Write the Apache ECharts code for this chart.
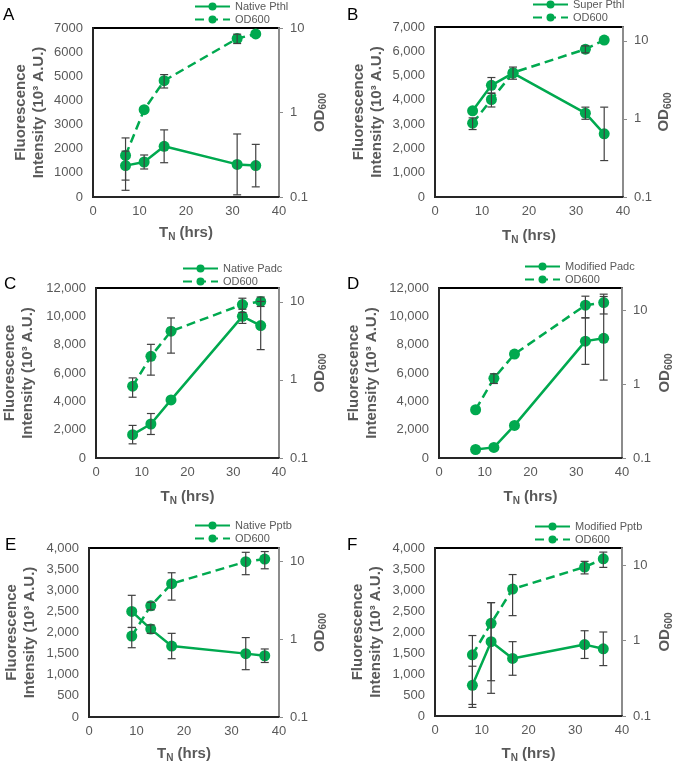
<!DOCTYPE html>
<html><head><meta charset="utf-8">
<script src="https://cdn.jsdelivr.net/npm/echarts@6/dist/echarts.min.js"></script>
<style>html,body{margin:0;padding:0;background:#fff}#c{width:675px;height:764px}</style>
</head><body><div id="c"></div>
<script>
// ---------- data ----------
const panelLetters = ['A', 'B', 'C', 'D', 'E', 'F'];
const seriesNames = ['Native Pthl', 'Super Pthl', 'Native Padc', 'Modified Padc', 'Native Pptb', 'Modified Pptb'];
const odName = 'OD600';

const timeA = [7, 11, 15.3, 31, 35];
const fluorA = [1300, 1450, 2100, 1350, 1300];
const fluorErrA = [600, 290, 680, 1260, 880];
const odA = [0.31, 1.08, 2.38, 7.5, 8.5];
const odErrA = [0.19, 0, 0.43, 0.95, 0];

const timeB = [8, 12, 16.6, 32, 36];
const fluorB = [3550, 4600, 5100, 3450, 2600];
const fluorErrB = [0, 320, 250, 250, 1100];
const odB = [0.88, 1.77, 3.9, 7.8, 10.2];
const odErrB = [0.15, 0.35, 0, 0.8, 0];

const timeC = [8, 12, 16.4, 32, 36];
const fluorC = [1650, 2400, 4100, 10000, 9350];
const fluorErrC = [650, 740, 0, 500, 1700];
const odC = [0.83, 2.0, 4.2, 9.2, 10.1];
const odErrC = [0.23, 0.85, 2.0, 1.9, 1.4];

const timeD = [8, 12, 16.5, 32, 36];
const fluorD = [600, 750, 2300, 8250, 8450];
const fluorErrD = [0, 0, 0, 1640, 2950];
const odD = [0.45, 1.2, 2.55, 11.7, 12.7];
const odErrD = [0, 0.18, 0, 3.8, 3.8];

const timeE = [9, 13, 17.4, 33, 37];
const fluorE = [2500, 2080, 1680, 1500, 1450];
const fluorErrE = [380, 100, 300, 380, 160];
const odE = [1.1, 2.7, 5.2, 10, 10.8];
const odErrE = [0.32, 0.3, 2.0, 3.2, 2.7];

const timeF = [8, 12, 16.6, 32, 36];
const fluorF = [730, 1770, 1370, 1700, 1600];
const fluorErrF = [455, 930, 400, 330, 400];
const odF = [0.65, 1.7, 4.85, 9.5, 12.2];
const odErrF = [0.52, 1.5, 2.7, 1.8, 2.8];

// axis ranges / tick labels
const timeTicks = [0, 10, 20, 30, 40];
const fluorAxisMax = [7000, 7000, 12000, 12000, 4000, 4000];
const fluorAxisStep = [1000, 1000, 2000, 2000, 500, 500];
const fluorUseComma = [false, true, true, true, true, true];
const odAxisMin = 0.1;
const odAxisMax = [10, 15, 15, 20, 15, 17];

const panels = [
  [timeA, fluorA, fluorErrA, odA, odErrA],
  [timeB, fluorB, fluorErrB, odB, odErrB],
  [timeC, fluorC, fluorErrC, odC, odErrC],
  [timeD, fluorD, fluorErrD, odD, odErrD],
  [timeE, fluorE, fluorErrE, odE, odErrE],
  [timeF, fluorF, fluorErrF, odF, odErrF]
];

// ---------- layout / style ----------
const layout = {
  grids: [
    {left: 93, top: 28, width: 186, height: 169},
    {left: 435, top: 27, width: 188, height: 170},
    {left: 91, top: 288, width: 188, height: 170},
    {left: 439, top: 288, width: 184, height: 170},
    {left: 89, top: 548, width: 190, height: 170},
    {left: 435, top: 548, width: 188, height: 170}
  ],
  legend: [[194, 1], [532, -1], [182, 263], [524, 261], [194, 520], [534, 521]],
  letters: [[3, 7], [347, 7], [4, 276], [347, 276], [5, 537], [347, 537]],
  leftNameGap: [45, 49, 59, 58, 50, 50],
  rightNameGap: [31, 32, 30, 34, 30, 34],
  xNameGap: [27, 30, 30, 30, 28, 29]
};
const FONT = '"Liberation Sans", Arial, sans-serif';
const GREEN = '#00a94f';
const GREY = '#595959';

function errRender(params, api) {
  const x = api.value(0), y = api.value(1), e = api.value(2);
  if (!e) return null;
  const top = api.coord([x, y + e]);
  const bot = api.coord([x, y - e]);
  const w = 4;
  const st = {stroke: '#404040', lineWidth: 1.2};
  return {
    type: 'group',
    children: [
      {type: 'line', shape: {x1: top[0], y1: top[1], x2: bot[0], y2: bot[1]}, style: st},
      {type: 'line', shape: {x1: top[0] - w, y1: top[1], x2: top[0] + w, y2: top[1]}, style: st},
      {type: 'line', shape: {x1: bot[0] - w, y1: bot[1], x2: bot[0] + w, y2: bot[1]}, style: st}
    ]
  };
}

const subRich = {
  b: {fontSize: 15, fontWeight: 'bold', color: GREY, fontFamily: FONT, lineHeight: 18},
  s: {fontSize: 10, fontWeight: 'bold', color: GREY, fontFamily: FONT, lineHeight: 10, verticalAlign: 'bottom'}
};

const option = {
  animation: false,
  backgroundColor: '#fff',
  title: [], grid: [], xAxis: [], yAxis: [], legend: [], series: []
};

panels.forEach((p, i) => {
  const [time, fluor, fluorErr, od, odErr] = p;
  const g = layout.grids[i];
  option.grid.push({left: g.left, top: g.top, width: g.width, height: g.height,
    show: true, borderColor: '#000', borderWidth: 2, backgroundColor: 'transparent'});
  option.title.push({text: panelLetters[i], left: layout.letters[i][0], top: layout.letters[i][1], padding: 0,
    textStyle: {fontSize: 17, fontWeight: 'normal', color: '#000', fontFamily: FONT}});
  option.xAxis.push({
    type: 'value', gridIndex: i, min: timeTicks[0], max: timeTicks[timeTicks.length - 1],
    interval: timeTicks[1] - timeTicks[0],
    name: '{b|T}{s|N}{b| (hrs)}', nameLocation: 'middle', nameGap: layout.xNameGap[i],
    nameTextStyle: {rich: subRich},
    axisLine: {show: true, lineStyle: {color: '#262626', width: 2}},
    axisTick: {show: false}, splitLine: {show: false},
    axisLabel: {fontSize: 13, color: GREY, fontFamily: FONT, margin: 8}
  });
  option.yAxis.push({
    type: 'value', gridIndex: i, position: 'left', min: 0, max: fluorAxisMax[i], interval: fluorAxisStep[i],
    name: 'Fluorescence\nIntensity (10³ A.U.)', nameLocation: 'middle', nameGap: layout.leftNameGap[i], nameRotate: 90,
    nameTextStyle: {fontSize: 15, fontWeight: 'bold', color: GREY, fontFamily: FONT, lineHeight: 18},
    axisLine: {show: true, lineStyle: {color: '#262626', width: 2}},
    axisTick: {show: false}, splitLine: {show: false},
    axisLabel: {fontSize: 13, color: GREY, fontFamily: FONT, margin: 10,
      formatter: v => fluorUseComma[i] ? v.toLocaleString('en-US') : String(v)}
  });
  option.yAxis.push({
    type: 'log', logBase: 10, gridIndex: i, position: 'right', min: odAxisMin, max: odAxisMax[i],
    name: '{b|OD}{s|600}', nameLocation: 'middle', nameGap: layout.rightNameGap[i], nameRotate: 90,
    nameTextStyle: {rich: subRich},
    axisLine: {show: true, lineStyle: {color: '#8c8c8c', width: 2}},
    axisTick: {show: true, length: 4, lineStyle: {color: '#8c8c8c'}},
    splitLine: {show: false},
    axisLabel: {fontSize: 13, color: GREY, fontFamily: FONT, margin: 11, showMaxLabel: odAxisMax[i] === 10,
      formatter: v => String(+v.toPrecision(3))}
  });
  option.legend.push({
    data: [seriesNames[i], odName], orient: 'vertical', left: layout.legend[i][0], top: layout.legend[i][1],
    itemWidth: 35, itemHeight: 10, itemGap: 2, padding: 0, selectedMode: false,
    textStyle: {fontSize: 11, color: GREY, fontFamily: FONT, lineHeight: 11}
  });
  const fY = 2 * i, oY = 2 * i + 1;
  option.series.push({
    type: 'line', name: seriesNames[i], xAxisIndex: i, yAxisIndex: fY,
    data: time.map((t, k) => [t, fluor[k]]),
    symbol: 'circle', symbolSize: 11, z: 3,
    lineStyle: {color: GREEN, width: 2.5}, itemStyle: {color: GREEN}
  });
  option.series.push({
    type: 'line', name: odName, xAxisIndex: i, yAxisIndex: oY,
    data: time.map((t, k) => [t, od[k]]),
    symbol: 'circle', symbolSize: 11, z: 3,
    lineStyle: {color: GREEN, width: 2.5, type: [9, 5]}, itemStyle: {color: GREEN}
  });
  option.series.push({
    type: 'custom', name: 'err-f-' + i, xAxisIndex: i, yAxisIndex: fY, z: 4,
    data: time.map((t, k) => [t, fluor[k], fluorErr[k]]),
    encode: {x: 0, y: 1}, renderItem: errRender, silent: true
  });
  option.series.push({
    type: 'custom', name: 'err-o-' + i, xAxisIndex: i, yAxisIndex: oY, z: 4,
    data: time.map((t, k) => [t, od[k], odErr[k]]),
    encode: {x: 0, y: 1}, renderItem: errRender, silent: true
  });
});

const chart = echarts.init(document.getElementById('c'), null, {renderer: 'canvas'});
chart.setOption(option);
</script>
</body></html>
